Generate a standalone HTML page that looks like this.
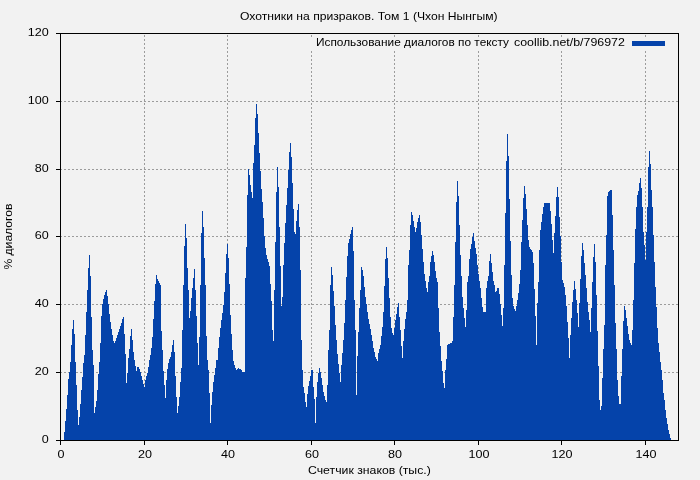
<!DOCTYPE html>
<html><head><meta charset="utf-8"><style>html,body{margin:0;padding:0;background:#f2f2f2;}svg{display:block;} text{-webkit-font-smoothing:antialiased;fill:#000;}</style></head>
<body><svg style="will-change:transform" width="700" height="480" viewBox="0 0 700 480">
<rect x="0" y="0" width="700" height="480" fill="#f2f2f2"/>
<path d="M144.5,441V34 M227.5,441V34 M311.5,441V34 M394.5,441V34 M478.5,441V34 M561.5,441V34 M645.5,441V34 M60,372.5H678 M60,304.5H678 M60,236.5H678 M60,169.5H678 M60,101.5H678" stroke="#9c9c9c" stroke-width="1" stroke-dasharray="2,2" fill="none" shape-rendering="crispEdges"/>
<rect x="305" y="38" width="372" height="13" fill="#f2f2f2"/>
<path d="M63,440V440H64V432H65V421H66V409H67V395H68V379H69V372H70V362H71V345H72V329H73V320H74V334H75V362H76V385H77V410H78V425H79V417H80V404H81V390H82V377H83V363H84V355H85V335H86V312H87V290H88V268H89V255H90V276H91V317H92V350H93V365H94V413H95V407H96V401H97V390H98V374H99V362H100V343H101V316H102V304H103V299H104V295H105V292H106V290H107V296H108V304H109V314H110V322H111V329H112V335H113V341H114V343H115V341H116V338H117V335H118V332H119V329H120V326H121V323H122V319H123V317H124V334H125V354H126V383H127V373H128V358H129V349H130V336H131V329H132V340H133V352H134V360H135V366H136V371H137V367H138V367H139V369H140V372H141V376H142V380H143V384H144V387H145V380H146V376H147V373H148V367H149V360H150V355H151V348H152V337H153V319H154V301H155V284H156V275H157V279H158V281H159V283H160V285H161V331H162V350H163V371H164V385H165V398H166V380H167V369H168V363H169V359H170V357H171V352H172V345H173V340H174V352H175V376H176V397H177V413H178V406H179V397H180V382H181V368H182V330H183V285H184V246H185V224H186V238H187V268H188V290H189V318H190V311H191V298H192V288H193V278H194V269H195V290H196V316H197V343H198V365H199V337H200V285H201V233H202V211H203V227H204V258H205V285H206V336H207V360H208V370H209V393H210V423H211V405H212V392H213V382H214V375H215V368H216V360H217V360H218V348H219V337H220V328H221V320H222V313H223V305H224V292H225V273H226V254H227V244H228V258H229V284H230V315H231V334H232V350H233V361H234V365H235V368H236V370H237V369H238V368H239V369H240V369H241V370H242V372H243V372H244V372H245V278H246V247H247V195H248V169H249V175H250V185H251V192H252V198H253V163H254V145H255V118H256V104H257V114H258V133H259V153H260V171H261V189H262V202H263V218H264V236H265V248H266V255H267V259H268V262H269V266H270V284H271V301H272V330H273V341H274V290H275V242H276V192H277V167H278V187H279V227H280V266H281V306H282V297H283V265H284V243H285V223H286V205H287V188H288V170H289V152H290V143H291V157H292V183H293V209H294V232H295V234H296V221H297V210H298V204H299V227H300V270H301V340H302V370H303V387H304V393H305V402H306V407H307V394H308V386H309V381H310V376H311V370H312V370H313V387H314V399H315V423H316V397H317V382H318V373H319V368H320V372H321V378H322V385H323V392H324V396H325V400H326V402H327V385H328V350H329V330H330V285H331V267H332V275H333V291H334V306H335V325H336V340H337V354H338V364H339V373H340V382H341V365H342V353H343V340H344V323H345V300H346V277H347V256H348V243H349V239H350V234H351V230H352V227H353V251H354V300H355V330H356V395H357V356H358V332H359V308H360V290H361V267H362V270H363V276H364V287H365V297H366V304H367V312H368V319H369V324H370V329H371V335H372V341H373V348H374V352H375V357H376V359H377V361H378V353H379V349H380V345H381V336H382V327H383V312H384V286H385V259H386V247H387V258H388V278H389V298H390V317H391V328H392V333H393V335H394V328H395V320H396V314H397V307H398V303H399V317H400V330H401V346H402V358H403V341H404V329H405V319H406V312H407V300H408V265H409V250H410V225H411V212H412V215H413V221H414V227H415V232H416V228H417V222H418V218H419V215H420V222H421V235H422V249H423V262H424V274H425V281H426V288H427V292H428V282H429V276H430V262H431V256H432V251H433V255H434V262H435V271H436V278H437V282H438V308H439V332H440V346H441V361H442V371H443V383H444V388H445V370H446V359H447V345H448V344H449V344H450V343H451V343H452V341H453V317H454V285H455V242H456V202H457V181H458V196H459V225H460V255H461V276H462V297H463V308H464V318H465V327H466V310H467V282H468V276H469V259H470V249H471V244H472V237H473V233H474V241H475V248H476V254H477V265H478V274H479V281H480V288H481V298H482V307H483V312H484V312H485V312H486V288H487V281H488V276H489V261H490V254H491V263H492V272H493V281H494V285H495V292H496V291H497V288H498V288H499V294H500V304H501V315H502V326H503V308H504V265H505V213H506V161H507V134H508V156H509V199H510V241H511V275H512V298H513V306H514V309H515V311H516V306H517V300H518V293H519V284H520V270H521V242H522V220H523V198H524V186H525V194H526V209H527V225H528V240H529V247H530V249H531V250H532V252H533V263H534V289H535V316H536V345H537V303H538V282H539V250H540V230H541V222H542V214H543V207H544V203H545V203H546V203H547V203H548V203H549V203H550V211H551V224H552V240H553V253H554V233H555V216H556V197H557V187H558V197H559V217H560V236H561V262H562V280H563V283H564V287H565V295H566V306H567V322H568V338H569V358H570V335H571V318H572V302H573V290H574V281H575V289H576V300H577V313H578V327H579V303H580V279H581V256H582V243H583V250H584V263H585V275H586V288H587V302H588V312H589V320H590V332H591V308H592V282H593V257H594V244H595V262H596V295H597V331H598V366H599V400H600V410H601V406H602V378H603V349H604V325H605V265H606V235H607V196H608V192H609V191H610V190H611V190H612V215H613V250H614V285H615V323H616V349H617V380H618V396H619V404H620V404H621V376H622V349H623V321H624V306H625V310H626V318H627V326H628V334H629V340H630V343H631V345H632V330H633V300H634V263H635V229H636V207H637V195H638V191H639V183H640V178H641V188H642V207H643V232H644V245H645V260H646V232H647V207H648V167H649V151H650V164H651V190H652V207H653V235H654V262H655V287H656V307H657V328H658V343H659V352H660V362H661V370H662V380H663V393H664V400H665V410H666V418H667V424H668V430H669V434H670V438H671V440Z" fill="#0543aa" shape-rendering="crispEdges"/>
<path d="M60.5,33.5H678.5V440.5H60.5Z" stroke="#000" stroke-width="1" fill="none" shape-rendering="crispEdges"/>
<path d="M56,440.5H60 M56,372.5H60 M56,304.5H60 M56,236.5H60 M56,169.5H60 M56,101.5H60 M56,33.5H60 M60.5,441V445 M144.5,441V445 M227.5,441V445 M311.5,441V445 M394.5,441V445 M478.5,441V445 M561.5,441V445 M645.5,441V445" stroke="#000" stroke-width="1" fill="none" shape-rendering="crispEdges"/>
<text x="48.8" y="443.3" font-family="Liberation Sans, sans-serif" font-size="11" text-anchor="end" textLength="7.0" lengthAdjust="spacingAndGlyphs">0</text>
<text x="48.8" y="375.3" font-family="Liberation Sans, sans-serif" font-size="11" text-anchor="end" textLength="14.0" lengthAdjust="spacingAndGlyphs">20</text>
<text x="48.8" y="307.3" font-family="Liberation Sans, sans-serif" font-size="11" text-anchor="end" textLength="14.0" lengthAdjust="spacingAndGlyphs">40</text>
<text x="48.8" y="239.3" font-family="Liberation Sans, sans-serif" font-size="11" text-anchor="end" textLength="14.0" lengthAdjust="spacingAndGlyphs">60</text>
<text x="48.8" y="172.3" font-family="Liberation Sans, sans-serif" font-size="11" text-anchor="end" textLength="14.0" lengthAdjust="spacingAndGlyphs">80</text>
<text x="48.8" y="104.3" font-family="Liberation Sans, sans-serif" font-size="11" text-anchor="end" textLength="21.0" lengthAdjust="spacingAndGlyphs">100</text>
<text x="48.8" y="36.3" font-family="Liberation Sans, sans-serif" font-size="11" text-anchor="end" textLength="21.0" lengthAdjust="spacingAndGlyphs">120</text>
<text x="61.0" y="458.2" font-family="Liberation Sans, sans-serif" font-size="11" text-anchor="middle" textLength="7.0" lengthAdjust="spacingAndGlyphs">0</text>
<text x="145.0" y="458.2" font-family="Liberation Sans, sans-serif" font-size="11" text-anchor="middle" textLength="14.0" lengthAdjust="spacingAndGlyphs">20</text>
<text x="228.0" y="458.2" font-family="Liberation Sans, sans-serif" font-size="11" text-anchor="middle" textLength="14.0" lengthAdjust="spacingAndGlyphs">40</text>
<text x="312.0" y="458.2" font-family="Liberation Sans, sans-serif" font-size="11" text-anchor="middle" textLength="14.0" lengthAdjust="spacingAndGlyphs">60</text>
<text x="395.0" y="458.2" font-family="Liberation Sans, sans-serif" font-size="11" text-anchor="middle" textLength="14.0" lengthAdjust="spacingAndGlyphs">80</text>
<text x="479.0" y="458.2" font-family="Liberation Sans, sans-serif" font-size="11" text-anchor="middle" textLength="21.0" lengthAdjust="spacingAndGlyphs">100</text>
<text x="562.0" y="458.2" font-family="Liberation Sans, sans-serif" font-size="11" text-anchor="middle" textLength="21.0" lengthAdjust="spacingAndGlyphs">120</text>
<text x="646.0" y="458.2" font-family="Liberation Sans, sans-serif" font-size="11" text-anchor="middle" textLength="21.0" lengthAdjust="spacingAndGlyphs">140</text>
<text x="240.0" y="20.4" font-family="Liberation Sans, sans-serif" font-size="11" textLength="257.6" lengthAdjust="spacingAndGlyphs">Охотники на призраков. Том 1 (Чхон Нынгым)</text>
<text x="316.0" y="46.3" font-family="Liberation Sans, sans-serif" font-size="11" textLength="193.0" lengthAdjust="spacingAndGlyphs">Использование диалогов по тексту</text>
<text x="514.0" y="46.3" font-family="Liberation Sans, sans-serif" font-size="11" textLength="110.9" lengthAdjust="spacingAndGlyphs">coollib.net/b/796972</text>
<rect x="632" y="41" width="33" height="5" fill="#0543aa"/>
<text x="308.0" y="474.2" font-family="Liberation Sans, sans-serif" font-size="11" textLength="122.8" lengthAdjust="spacingAndGlyphs">Счетчик знаков (тыс.)</text>
<text transform="translate(12.1,269.6) rotate(-90)" x="0" y="0" font-family="Liberation Sans, sans-serif" font-size="11" textLength="66.0" lengthAdjust="spacingAndGlyphs">% диалогов</text>
</svg></body></html>
